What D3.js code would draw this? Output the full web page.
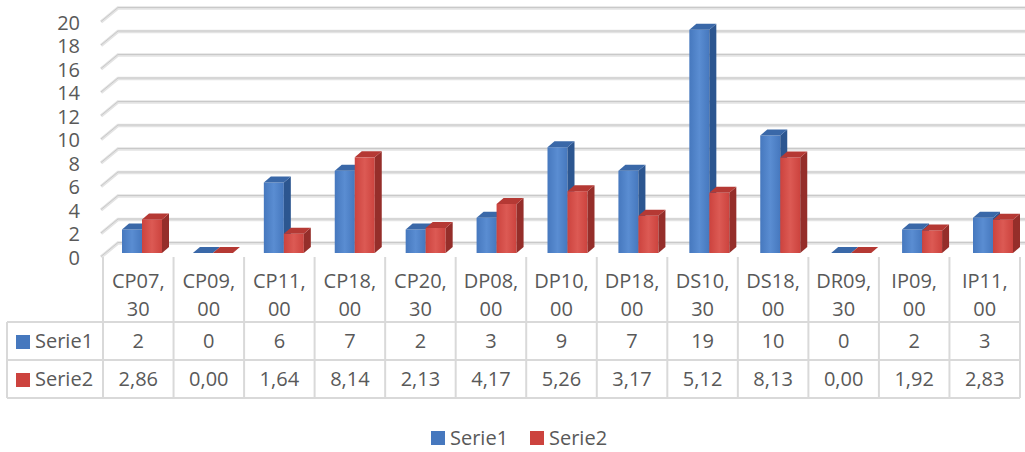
<!DOCTYPE html>
<html>
<head>
<meta charset="utf-8">
<script src="https://cdn.jsdelivr.net/npm/d3@7"></script>
<style>
  body { margin: 0; background: #fff; }
  svg text { font-family: "Open Sans", sans-serif; fill: #595959; }
</style>
</head>
<body>
<div id="chart"></div>
<script>
const categories = ["CP07,30", "CP09,00", "CP11,00", "CP18,00", "CP20,30", "DP08,00", "DP10,00",
    "DP18,00", "DS10,30", "DS18,00", "DR09,30", "IP09,00", "IP11,00"];
const serie1 = [2, 0, 6, 7, 2, 3, 9, 7, 19, 10, 0, 2, 3];
const serie2 = [2.86, 0.00, 1.64, 8.14, 2.13, 4.17, 5.26, 3.17, 5.12, 8.13, 0.00, 1.92, 2.83];
const seriesNames = ["Serie1", "Serie2"];
const yTicks = d3.range(0, 21, 2);

const W = 1025, H = 452;
const colors = {
    Serie1: { front: "#4678be", light: "#5a8dd2", side: "#2c5690", top: "#3a68a8" },
    Serie2: { front: "#cc433e", light: "#dc5a54", side: "#952e2a", top: "#b53934" }
};

const svg = d3.select("#chart").append("svg").attr("width", W).attr("height", H);
const defs = svg.append("defs");
seriesNames.forEach(s => {
    const g = defs.append("linearGradient").attr("id", "g" + s)
        .attr("x1", 0).attr("x2", 1).attr("y1", 0).attr("y2", 0);
    g.append("stop").attr("offset", "0%").attr("stop-color", colors[s].front);
    g.append("stop").attr("offset", "50%").attr("stop-color", colors[s].light);
    g.append("stop").attr("offset", "100%").attr("stop-color", colors[s].front);
});

// front plane scales
const x = d3.scaleBand().domain(categories).range([103, 1020]);
const y = d3.scaleLinear().domain([0, 20]).range([257, 22]);
const depth = { dx: 17, dy: -14 };

// gridlines (diagonal + back wall)
const grid = svg.append("g");
yTicks.forEach(t => {
    const y0 = y(t), y1 = y(t) + depth.dy;
    const x0 = 101, x1 = x0 + depth.dx;
    grid.append("path")
        .attr("d", `M${x0},${y0}L${x1},${y1}L${W},${y1}`)
        .attr("fill", "none").attr("stroke", "#e3e3e3").attr("stroke-width", 3.5);
    grid.append("path")
        .attr("d", `M${x0},${y0 - 0.5}L${x1},${y1 - 0.5}L${W},${y1 - 0.5}`)
        .attr("fill", "none").attr("stroke", "#c9c9c9").attr("stroke-width", 1);
});

// y axis labels
svg.append("g").selectAll("text").data(yTicks).join("text")
    .attr("x", 80).attr("y", d => y(d) + 7.5)
    .attr("text-anchor", "end").attr("font-size", 20)
    .text(d => d);

// bars
const barW = 20;
const barStart = d3.scaleLinear().domain([0, categories.length - 1]).range([117, 968]);
const bd = { dx: 7, dy: -6 };
const shift = { dx: 5, dy: -4 };
const bars = svg.append("g");
const rows = [serie1, serie2];
categories.forEach((c, i) => {
    rows.forEach((vals, k) => {
        const s = seriesNames[k];
        const v = vals[i];
        const xl = barStart(i) + shift.dx + k * barW;
        const xr = xl + barW;
        const yt = y(v) + shift.dy;
        const yb = y(0) + shift.dy;
        const g = bars.append("g");
        if (v > 0) {
            g.append("rect").attr("x", xl).attr("y", yt)
                .attr("width", barW).attr("height", yb - yt)
                .attr("fill", "url(#g" + s + ")");
            g.append("path")
                .attr("d", `M${xr},${yt}L${xr + bd.dx},${yt + bd.dy}L${xr + bd.dx},${yb + bd.dy}L${xr},${yb}Z`)
                .attr("fill", colors[s].side);
        }
        g.append("path")
            .attr("d", `M${xl},${yt}L${xl + bd.dx},${yt + bd.dy}L${xr + bd.dx},${yt + bd.dy}L${xr},${yt}Z`)
            .attr("fill", colors[s].top);
    });
});

// data table
const table = svg.append("g");
const lineCol = "#d9d9d9";
const tTop = 257, hBot = 322, r1 = 360, r2 = 398, tLeft = 7;
const bounds = categories.map(c => x(c)).concat([x.range()[1]]);
bounds.forEach(bx => {
    table.append("line").attr("x1", bx).attr("x2", bx).attr("y1", tTop).attr("y2", r2)
        .attr("stroke", lineCol).attr("stroke-width", 2);
});
[hBot, r1, r2].forEach(ly => {
    table.append("line").attr("x1", tLeft).attr("x2", x.range()[1]).attr("y1", ly).attr("y2", ly)
        .attr("stroke", lineCol).attr("stroke-width", 2);
});
table.append("line").attr("x1", tLeft).attr("x2", tLeft).attr("y1", hBot).attr("y2", r2)
    .attr("stroke", lineCol).attr("stroke-width", 2);

// category headers
categories.forEach(c => {
    const parts = c.split(",");
    const cx = x(c) + x.bandwidth() / 2;
    table.append("text").attr("x", cx).attr("y", 288).attr("text-anchor", "middle")
        .attr("font-size", 20).text(parts[0] + ",");
    table.append("text").attr("x", cx).attr("y", 316).attr("text-anchor", "middle")
        .attr("font-size", 20).text(parts[1]);
});

const fmt2 = v => d3.format(".2f")(v).replace(".", ",");
const rowBase = [348, 386];
rows.forEach((vals, k) => {
    const s = seriesNames[k];
    table.append("rect").attr("x", 16).attr("y", rowBase[k] - 13).attr("width", 14).attr("height", 14)
        .attr("fill", colors[s].front);
    table.append("text").attr("x", 35).attr("y", rowBase[k]).attr("font-size", 20).text(s);
    vals.forEach((v, i) => {
        table.append("text").attr("x", x(categories[i]) + x.bandwidth() / 2).attr("y", rowBase[k])
            .attr("text-anchor", "middle").attr("font-size", 20)
            .text(k === 0 ? d3.format("d")(v) : fmt2(v));
    });
});

// legend
const legend = svg.append("g");
const legendX = [431, 530];
seriesNames.forEach((s, k) => {
    legend.append("rect").attr("x", legendX[k]).attr("y", 431).attr("width", 14).attr("height", 14)
        .attr("fill", colors[s].front);
    legend.append("text").attr("x", legendX[k] + 19).attr("y", 445).attr("font-size", 20).text(s);
});
</script>
</body>
</html>
